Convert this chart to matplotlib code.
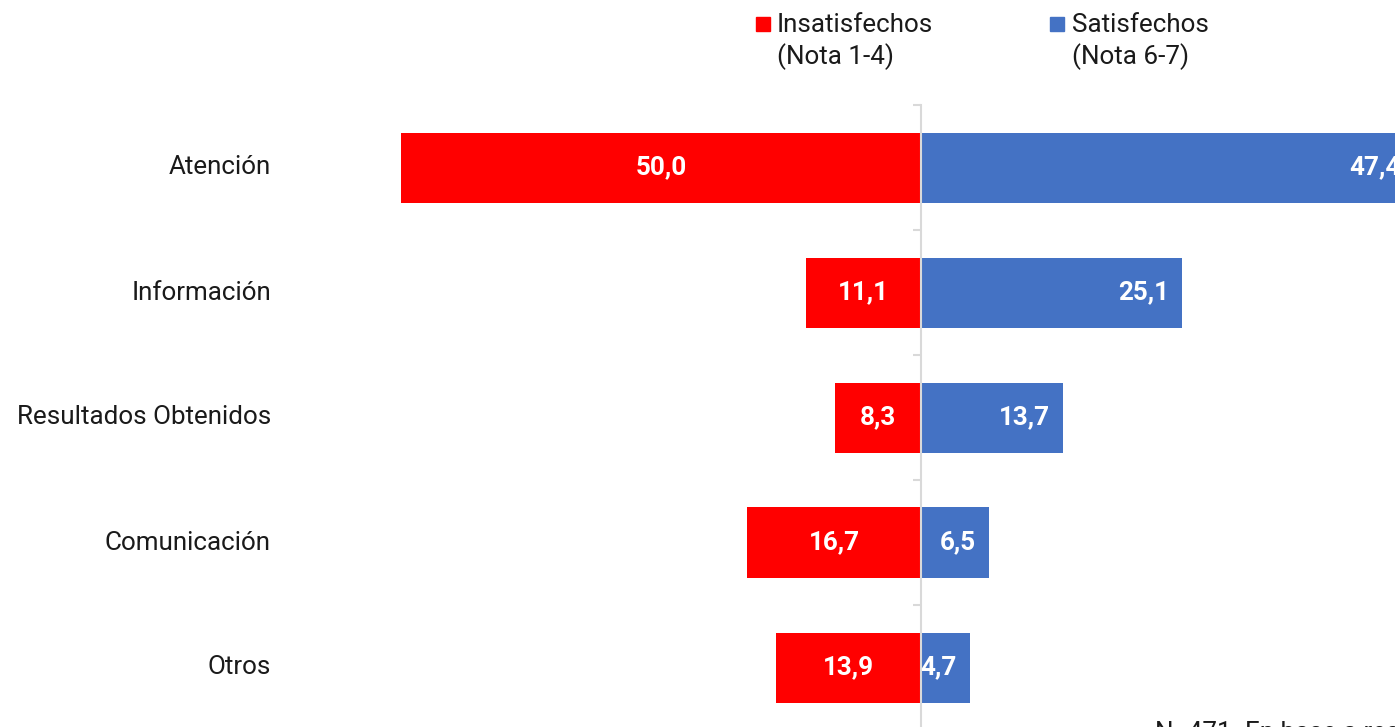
import matplotlib
matplotlib.use('Agg')
import matplotlib.pyplot as plt
from matplotlib.patches import Rectangle

plt.rcParams['font.family'] = ['Roboto', 'DejaVu Sans']

# Data
categories = ['Atención', 'Información', 'Resultados Obtenidos', 'Comunicación', 'Otros']
insatisfechos = [50.0, 11.1, 8.3, 16.7, 13.9]
satisfechos = [47.4, 25.1, 13.7, 6.5, 4.7]
legend_labels = ['Insatisfechos\n(Nota 1-4)', 'Satisfechos\n(Nota 6-7)']
footnote = 'N=471. En base a respuestas válidas'

RED = '#FF0000'
BLUE = '#4472C4'
GRID = '#D9D9D9'
FS = 18.7

W, H = 1395, 727
fig = plt.figure(figsize=(W / 100, H / 100), dpi=100)

# axes: pixel 300..1395 horizontally, 105..730 vertically
ax_left, ax_top, ax_bottom = 300, 105, 730
ax = fig.add_axes([ax_left / W, (H - ax_bottom) / H, 1 - ax_left / W, (ax_bottom - ax_top) / H])
scale = 10.4  # px per unit
center_px = 921
ax.set_xlim((ax_left - center_px) / scale, (W - center_px) / scale)
ax.set_ylim(len(categories) - 0.5, -0.5)

y = list(range(len(categories)))
neg = [-v for v in insatisfechos]
ax.barh(y, neg, height=0.56, color=RED, zorder=2)
ax.barh(y, satisfechos, height=0.56, color=BLUE, zorder=2)

for s in ['top', 'right', 'bottom']:
    ax.spines[s].set_visible(False)
ax.spines['left'].set_position(('data', 0))
ax.spines['left'].set_color(GRID)
ax.spines['left'].set_linewidth(1.5)
ax.spines['left'].set_zorder(3)
ax.set_xticks([])
ax.set_yticks([i - 0.5 for i in range(len(categories) + 1)])
ax.set_yticklabels([])
ax.tick_params(axis='y', length=6, width=1.5, color=GRID)

# value labels
fmt = lambda v: f'{v:.1f}'.replace('.', ',')
end_off = 13 / scale
for i in y:
    ax.text(-insatisfechos[i] / 2, i, fmt(insatisfechos[i]), ha='center', va='center',
            color='white', fontsize=FS, fontweight='bold', zorder=4)
    ax.text(satisfechos[i] - end_off, i, fmt(satisfechos[i]), ha='right', va='center',
            color='white', fontsize=FS, fontweight='bold', zorder=4, clip_on=False)

# category labels
lab_x = (271 - center_px) / scale
for i, c in enumerate(categories):
    ax.text(lab_x, i, c, ha='right', va='center', fontsize=FS, color='#1a1a1a')

# legend drawn manually
for (sq_x, txt_x), lab, col in zip([(756, 777), (1050, 1072)], legend_labels, [RED, BLUE]):
    fig.patches.append(Rectangle((sq_x / W, 1 - 31 / H), 14 / W, 14 / H,
                                 transform=fig.transFigure, color=col))
    fig.text(txt_x / W, 1 - 13 / H, lab, ha='left', va='top', fontsize=FS,
             color='#1a1a1a', linespacing=1.3)

fig.text(1155 / W, 1 - 740 / H, footnote, ha='left', va='baseline', fontsize=FS, color='#1a1a1a')

fig.savefig('out.png', dpi=100)
